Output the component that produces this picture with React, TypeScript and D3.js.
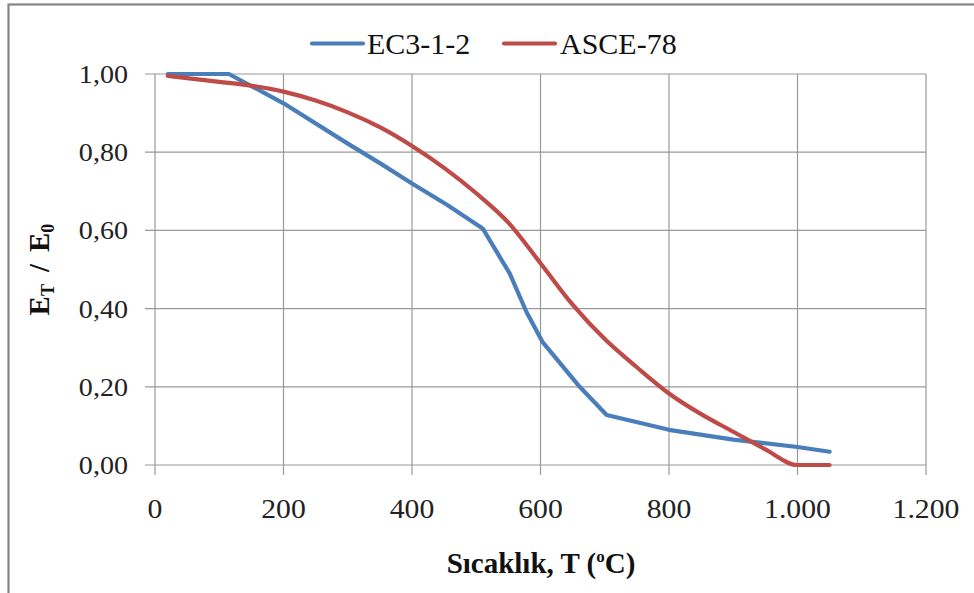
import React from "react";
import * as d3 from "d3";

const xTicks = [0, 200, 400, 600, 800, 1000, 1200];
const yTicks = [0, 0.2, 0.4, 0.6, 0.8, 1.0];

const ecTemps = [20, 115, 200, 300, 350, 400, 455, 510, 552, 578, 603, 661, 703, 800, 900, 1000, 1050];
const ecValues = [1.0, 1.0, 0.925, 0.822, 0.772, 0.72, 0.665, 0.605, 0.49, 0.392, 0.315, 0.2, 0.128, 0.09, 0.065, 0.046, 0.034];

const asceTemps = [20, 100, 150, 200, 250, 300, 350, 400, 450, 500, 550, 600, 650, 700, 750, 800, 850, 900, 950, 1000, 1050];
const asceValues = [0.995, 0.98, 0.97, 0.955, 0.932, 0.902, 0.864, 0.816, 0.76, 0.695, 0.62, 0.516, 0.41, 0.322, 0.25, 0.183, 0.13, 0.085, 0.04, 0, 0];

const seriesNames = ["EC3-1-2", "ASCE-78"];
const seriesColors = ["#4A7EBB", "#BE4B48"];

const locale = d3.formatLocale({ decimal: ",", thousands: ".", grouping: [3], currency: ["", ""] });
const fmtX = locale.format(",.0f");
const fmtY = locale.format(".2f");

export default function App() {
  const W = 974, H = 593;
  const x = d3.scaleLinear().domain([0, 1200]).range([155, 926]);
  const y = d3.scaleLinear().domain([0, 1]).range([465, 74]);
  const font = "'Liberation Serif', 'Times New Roman', serif";
  const grid = "#999999";

  const ecData = ecTemps.map((t, i) => [t, ecValues[i]] as [number, number]);
  const asceData = asceTemps.map((t, i) => [t, asceValues[i]] as [number, number]);
  const lineLin = d3.line<[number, number]>().x(d => x(d[0])).y(d => y(d[1]));
  const lineSmooth = d3.line<[number, number]>().x(d => x(d[0])).y(d => y(d[1])).curve(d3.curveMonotoneX);

  const legendX = [312, 504];
  const legendTextX = [367, 560];

  return (
    <svg width={W} height={H} style={{ position: "absolute", left: 0, top: 0, background: "#fff" }}>
      <rect x={0} y={0} width={W} height={H} fill="#fff" />
      {/* outer chart frame */}
      <rect x={8.5} y={4.5} width={W + 20} height={H + 20} fill="none" stroke="#858585" strokeWidth={2.2} />
      {/* gridlines */}
      {yTicks.map(t => (
        <line key={"gy" + t} x1={x(0) - 10} x2={x(1200)} y1={y(t)} y2={y(t)} stroke={grid} strokeWidth={1.2} />
      ))}
      {xTicks.map(t => (
        <line key={"gx" + t} x1={x(t)} x2={x(t)} y1={y(1)} y2={y(0) + 10} stroke={grid} strokeWidth={1.2} />
      ))}
      {/* tick labels */}
      {yTicks.map(t => (
        <text key={"ly" + t} transform={`translate(128,${y(t) + 9}) scale(1.08,1)`} textAnchor="end"
          fontFamily={font} fontSize={26} fill="#222">{fmtY(t)}</text>
      ))}
      {xTicks.map(t => (
        <text key={"lx" + t} transform={`translate(${x(t)},${518}) scale(1.1,1)`} textAnchor="middle"
          fontFamily={font} fontSize={27} fill="#222">{fmtX(t)}</text>
      ))}
      {/* series */}
      <path d={lineLin(ecData) || ""} fill="none" stroke={seriesColors[0]} strokeWidth={4.2} strokeLinejoin="round" strokeLinecap="round" />
      <path d={lineSmooth(asceData) || ""} fill="none" stroke={seriesColors[1]} strokeWidth={4.2} strokeLinejoin="round" strokeLinecap="round" />
      {/* legend */}
      {seriesNames.map((n, i) => (
        <g key={n}>
          <line x1={legendX[i]} x2={legendX[i] + 51} y1={43.5} y2={43.5} stroke={seriesColors[i]} strokeWidth={4.2} strokeLinecap="round" />
          <text x={legendTextX[i]} y={53.5} fontFamily={font} fontSize={30} fill="#111">{n}</text>
        </g>
      ))}
      {/* axis titles */}
      <text x={541} y={573} textAnchor="middle" fontFamily={font} fontSize={29} fontWeight="bold" fill="#111">
        Sıcaklık, T (<tspan fontSize={17} dy={-11}>o</tspan><tspan dy={11}>C)</tspan>
      </text>
      <text transform={`translate(48.5,${(y(0) + y(1)) / 2}) rotate(-90)`} textAnchor="middle" fontFamily={font}
        fontSize={29} fontWeight="bold" fill="#111">
        E<tspan fontSize={18} dy={5}>T</tspan><tspan dy={-5} dx={12}>/</tspan><tspan dx={12}>E</tspan><tspan fontSize={18} dy={5}>0</tspan>
      </text>
    </svg>
  );
}
